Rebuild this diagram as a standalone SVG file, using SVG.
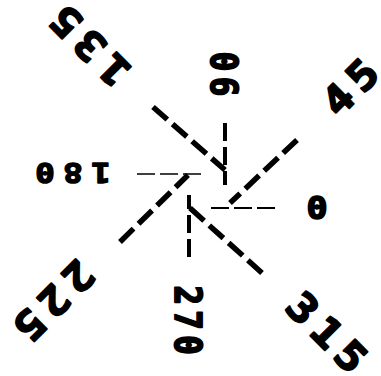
<svg xmlns="http://www.w3.org/2000/svg" width="381" height="376" viewBox="0 0 381 376">
<style>
.lbl{font-family:"DejaVu Sans Mono","Liberation Mono",monospace;font-weight:bold;fill:#000;stroke:#000;stroke-width:1.4;stroke-linejoin:round;text-anchor:middle}
.ax{font-size:27px}
.h{letter-spacing:7px}
.v{letter-spacing:4.5px}
.dg{font-size:40px;letter-spacing:7px;stroke-width:2}
.ln{stroke:#000;fill:none;stroke-linecap:butt}
.thin{stroke-width:2;stroke-dasharray:18 5}
.med{stroke-width:4;stroke-dasharray:18 6}
.thk{stroke-width:5.5;stroke-dasharray:19 7}
</style>
<rect width="381" height="376" fill="#fff"/>
<g id="connectors">
<line class="ln thin" x1="211" y1="208" x2="280" y2="208"/>
<line class="ln thk" x1="297" y1="140" x2="230" y2="203"/>
<line class="ln med" x1="225" y1="123" x2="225" y2="185"/>
<line class="ln thk" x1="153" y1="107" x2="225" y2="170"/>
<line class="ln thin" style="stroke-width:1.5" x1="137" y1="174" x2="203" y2="174"/>
<line class="ln thk" x1="120" y1="242" x2="188" y2="175"/>
<line class="ln med" x1="189" y1="257" x2="189" y2="195"/>
<line class="ln thk" x1="262" y1="273" x2="190" y2="208"/>
</g>
<g id="n0" transform="translate(317,207) scale(1.3,1.15)"><text class="lbl ax h" x="3.5" y="10">0</text></g>
<g id="n45" transform="translate(350,87) rotate(-45) scale(1.1,1)"><text class="lbl dg" x="3.5" y="14.5">45</text></g>
<g id="n90" transform="translate(224,74) rotate(-90) scale(1.2,1.4)"><text class="lbl ax v" x="2.3" y="10">90</text></g>
<g id="n135" transform="translate(90,46) rotate(-135) scale(1.1,1)"><text class="lbl dg" x="3.5" y="14.5">135</text></g>
<g id="n180" transform="translate(73,173) rotate(180) scale(1.2,1)"><text class="lbl ax h" x="3.5" y="10">180</text></g>
<g id="n225" transform="translate(54,301) rotate(135) scale(1.1,1)"><text class="lbl dg" x="3.5" y="14.5">225</text></g>
<g id="n270" transform="translate(189,320) rotate(90) scale(1.2,1.4)"><text class="lbl ax v" x="2.3" y="10">270</text></g>
<g id="n315" transform="translate(327,332) rotate(45) scale(1.1,1)"><text class="lbl dg" x="3.5" y="14.5">315</text></g>
</svg>
